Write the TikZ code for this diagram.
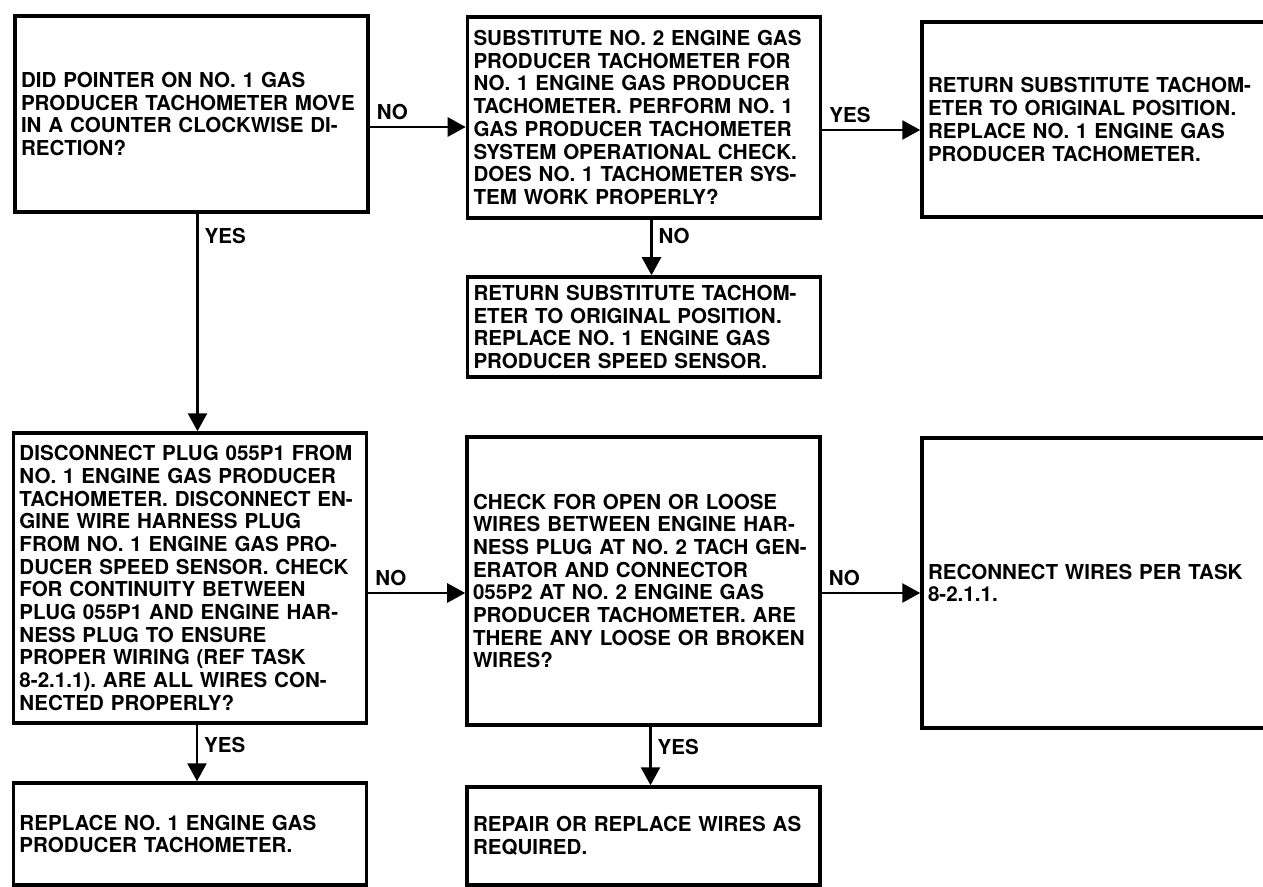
\documentclass[tikz,border=0pt]{standalone}
\usepackage{fontspec}
\setmainfont{TeX Gyre Heros}
\usetikzlibrary{arrows.meta}

\begin{document}
\begin{tikzpicture}[y=-1cm, every node/.style={font=\bfseries\fontsize{11.7}{12.9}\selectfont\frenchspacing}, >={Triangle[length=3.6mm, width=3.8mm]},
	tbox/.style={draw, line width=2pt, minimum width=7.06cm, text width=6.82cm, align=left, inner xsep=0.12cm},
	flow/.style={->, line width=1.5pt}]
	\useasboundingbox (0,0) rectangle (25.26,17.72);
	\node[tbox, minimum height=3.92cm] (pointer) at (3.83,2.28) {DID POINTER ON NO. 1 GAS\\PRODUCER TACHOMETER MOVE\\IN A COUNTER CLOCKWISE DI-\\RECTION?};
	\node[tbox, minimum height=4.02cm] (subst) at (12.88,2.35) {SUBSTITUTE NO. 2 ENGINE GAS\\PRODUCER TACHOMETER FOR\\NO. 1 ENGINE GAS PRODUCER\\TACHOMETER. PERFORM NO. 1\\GAS PRODUCER TACHOMETER\\SYSTEM OPERATIONAL CHECK.\\DOES NO. 1 TACHOMETER SYS-\\TEM WORK PROPERLY?};
	\node[tbox, minimum height=3.90cm] (rettach) at (21.97,2.39) {RETURN SUBSTITUTE TACHOM-\\ETER TO ORIGINAL POSITION.\\REPLACE NO. 1 ENGINE GAS\\PRODUCER TACHOMETER.};
	\node[tbox, minimum height=2.0cm] (retsens) at (12.88,6.54) {RETURN SUBSTITUTE TACHOM-\\ETER TO ORIGINAL POSITION.\\REPLACE NO. 1 ENGINE GAS\\PRODUCER SPEED SENSOR.};
	\node[tbox, minimum height=5.80cm] (discon) at (3.80,11.56) {DISCONNECT PLUG 055P1 FROM\\NO. 1 ENGINE GAS PRODUCER\\TACHOMETER. DISCONNECT EN-\\GINE WIRE HARNESS PLUG\\FROM NO. 1 ENGINE GAS PRO-\\DUCER SPEED SENSOR. CHECK\\FOR CONTINUITY BETWEEN\\PLUG 055P1 AND ENGINE HAR-\\NESS PLUG TO ENSURE\\PROPER WIRING (REF TASK\\8-2.1.1). ARE ALL WIRES CON-\\NECTED PROPERLY?};
	\node[tbox, minimum height=5.76cm] (chkwires) at (12.87,11.62) {CHECK FOR OPEN OR LOOSE\\WIRES BETWEEN ENGINE HAR-\\NESS PLUG AT NO. 2 TACH GEN-\\ERATOR AND CONNECTOR\\055P2 AT NO. 2 ENGINE GAS\\PRODUCER TACHOMETER. ARE\\THERE ANY LOOSE OR BROKEN\\WIRES?};
	\node[tbox, minimum height=5.80cm] (reconn) at (21.97,11.66) {RECONNECT WIRES PER TASK\\8-2.1.1.};
	\node[tbox, minimum height=2.04cm] (repltach) at (3.80,16.68) {REPLACE NO. 1 ENGINE GAS\\PRODUCER TACHOMETER.};
	\node[tbox, minimum height=1.96cm] (repair) at (12.87,16.72) {REPAIR OR REPLACE WIRES AS\\REQUIRED.};
	\draw[flow] ([yshift=-0.26cm]pointer.east) -- ([yshift=-0.26cm]pointer.east -| subst.west) node[pos=0, above right] {NO};
	\draw[flow] ([yshift=-0.25cm]subst.east) -- ([yshift=-0.25cm]subst.east -| rettach.west) node[pos=0, above right] {YES};
	\draw[flow] ([xshift=0.15cm]subst.south) -- ([xshift=0.15cm]subst.south |- retsens.north) node[pos=0.3, right] {NO};
	\draw[flow] ([xshift=0.12cm]pointer.south) -- ([xshift=0.12cm]pointer.south |- discon.north) node[pos=0.1, right] {YES};
	\draw[flow] ([yshift=-0.3cm]discon.east) -- ([yshift=-0.3cm]discon.east -| chkwires.west) node[pos=0, above right] {NO};
	\draw[flow] ([yshift=-0.24cm]chkwires.east) -- ([yshift=-0.24cm]chkwires.east -| reconn.west) node[pos=0, above right] {NO};
	\draw[flow] ([xshift=0.14cm]discon.south) -- ([xshift=0.14cm]discon.south |- repltach.north) node[pos=0.35, right] {YES};
	\draw[flow] ([xshift=0.14cm]chkwires.south) -- ([xshift=0.14cm]chkwires.south |- repair.north) node[pos=0.35, right] {YES};
\end{tikzpicture}
\end{document}
